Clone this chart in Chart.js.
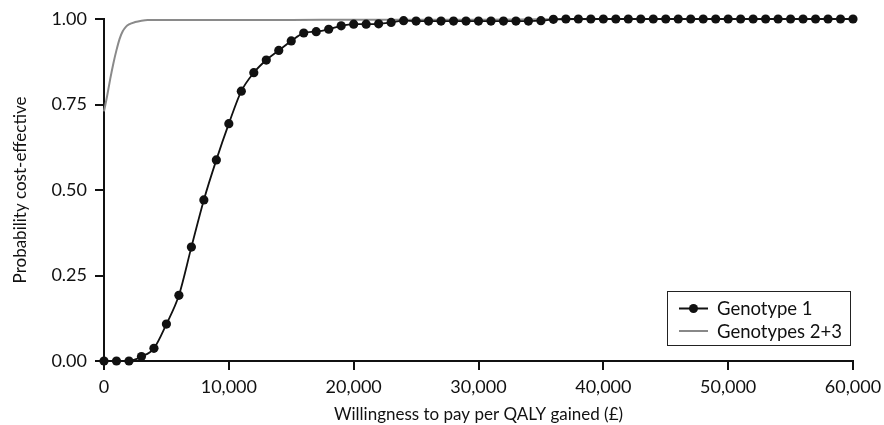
<!DOCTYPE html>
<html>
<head>
<meta charset="utf-8">
<script src="https://cdn.jsdelivr.net/npm/chart.js@4.4.1/dist/chart.umd.min.js"></script>
<style>
  html, body { margin: 0; padding: 0; background: #fff; }
  #wrap { width: 884px; height: 425px; }
</style>
</head>
<body>
<div id="wrap"><canvas id="mycanvas"></canvas></div>
<script>
// willingness to pay thresholds (GBP per QALY) and probability cost-effective
var wtpG1 = [0,1000,2000,3000,4000,5000,6000,7000,8000,9000,
  10000,11000,12000,13000,14000,15000,16000,17000,18000,19000,
  20000,21000,22000,23000,24000,25000,26000,27000,28000,29000,
  30000,31000,32000,33000,34000,35000,36000,37000,38000,39000,
  40000,41000,42000,43000,44000,45000,46000,47000,48000,49000,
  50000,51000,52000,53000,54000,55000,56000,57000,58000,59000,60000];
var probG1 = [0,0,0,0.013,0.037,0.108,0.192,0.333,0.471,0.588,
  0.694,0.789,0.843,0.880,0.908,0.936,0.959,0.963,0.970,0.980,
  0.985,0.985,0.986,0.990,0.995,0.994,0.994,0.994,0.994,0.994,
  0.994,0.994,0.994,0.994,0.994,0.995,0.999,1,1,1,
  1,1,1,1,1,1,1,1,1,1,
  1,1,1,1,1,1,1,1,1,1,1];

var wtpG23 = [0,250,500,750,1000,1250,1500,1750,2000,2500,3000,3500,4000,
  6000,10000,15000,20000,25000,30000,35000,40000,50000,60000];
var probG23 = [0.730,0.775,0.825,0.870,0.909,0.942,0.964,0.977,0.984,0.991,0.995,0.997,0.997,
  0.997,0.997,0.997,0.998,0.998,0.998,0.999,1,1,1];

var labelG1 = 'Genotype 1';
var labelG23 = 'Genotypes 2+3';
var xTitle = 'Willingness to pay per QALY gained (\u00a3)';
var yTitle = 'Probability cost-effective';

function pairs(xs, ys) {
  var out = [];
  for (var i = 0; i < xs.length; i++) out.push({x: xs[i], y: ys[i]});
  return out;
}

var FONT = 'Lato, "DejaVu Sans", sans-serif';
var FS = 18;   // tick labels
var TS = 17;   // axis titles
Chart.defaults.font.family = FONT;
Chart.defaults.color = '#111';

// boxed legend sitting in the lower right corner of the plot
const boxLegend = {
  id: 'boxLegend',
  afterDraw(chart) {
    const ctx = chart.ctx, a = chart.chartArea;
    const w = 183, h = 54;
    const x0 = a.right - 3 - w, y0 = a.bottom - 16 - h;
    ctx.save();
    ctx.strokeStyle = '#222';
    ctx.lineWidth = 1;
    ctx.fillStyle = '#fff';
    ctx.fillRect(x0, y0, w, h);
    ctx.strokeRect(x0 + 0.5, y0 + 0.5, w, h);
    const rows = [
      {label: labelG1, color: '#111', width: 2, dot: true, y: y0 + 17.5},
      {label: labelG23, color: '#888', width: 2, dot: false, y: y0 + 40}
    ];
    ctx.font = '18.5px ' + FONT;
    ctx.textBaseline = 'middle';
    rows.forEach(function (r) {
      ctx.strokeStyle = r.color;
      ctx.lineWidth = r.width;
      ctx.beginPath();
      ctx.moveTo(x0 + 12, r.y);
      ctx.lineTo(x0 + 41, r.y);
      ctx.stroke();
      if (r.dot) {
        ctx.fillStyle = r.color;
        ctx.beginPath();
        ctx.arc(x0 + 26.5, r.y, 4.5, 0, Math.PI * 2);
        ctx.fill();
      }
      ctx.fillStyle = '#111';
      ctx.fillText(r.label, x0 + 50, r.y + 1);
    });
    ctx.restore();
  }
};

const data = {
  datasets: [{
    label: labelG23,
    data: pairs(wtpG23, probG23),
    borderColor: '#8a8a8a',
    borderWidth: 2,
    pointRadius: 0,
    cubicInterpolationMode: 'monotone',
    order: 2
  }, {
    label: labelG1,
    data: pairs(wtpG1, probG1),
    borderColor: '#111',
    backgroundColor: '#111',
    borderWidth: 1.8,
    pointRadius: 4.6,
    pointHoverRadius: 4.6,
    pointBorderWidth: 0,
    cubicInterpolationMode: 'monotone',
    order: 1
  }]
};

const axisGrid = {
  display: true,
  drawOnChartArea: false,
  drawTicks: true,
  tickLength: 9,
  color: '#111',
  lineWidth: 2
};

const config = {
  type: 'line',
  data,
  plugins: [boxLegend],
  options: {
    responsive: false,
    animation: false,
    clip: false,
    layout: { padding: { top: 19, right: 31, left: 0, bottom: 0 } },
    plugins: { legend: { display: false }, tooltip: { enabled: false } },
    scales: {
      x: {
        type: 'linear',
        min: 0, max: 60000,
        grid: axisGrid,
        border: { display: true, color: '#111', width: 2 },
        ticks: {
          stepSize: 10000,
          padding: 6,
          font: { size: FS },
          color: '#111',
          maxRotation: 0,
          callback: function (v) { return v.toLocaleString('en-GB'); }
        },
        title: { display: true, text: xTitle, font: { size: TS }, color: '#111', padding: { top: 1, bottom: 0 } },
        afterFit: function (s) { s.height = 64; s.paddingLeft = 0; s.paddingRight = 0; }
      },
      y: {
        min: 0, max: 1,
        grid: axisGrid,
        border: { display: true, color: '#111', width: 2 },
        ticks: {
          stepSize: 0.25,
          padding: 8,
          font: { size: FS },
          color: '#111',
          callback: function (v) { return v.toFixed(2); }
        },
        title: { display: true, text: yTitle, font: { size: TS }, color: '#111', padding: { top: 10, bottom: 4 } },
        afterFit: function (s) { s.width = 104; s.paddingTop = 0; s.paddingBottom = 0; }
      }
    }
  }
};

var canvas = document.getElementById('mycanvas');
canvas.width = 884;
canvas.height = 425;
const myChart = new Chart(canvas, config);
</script>
</body>
</html>
